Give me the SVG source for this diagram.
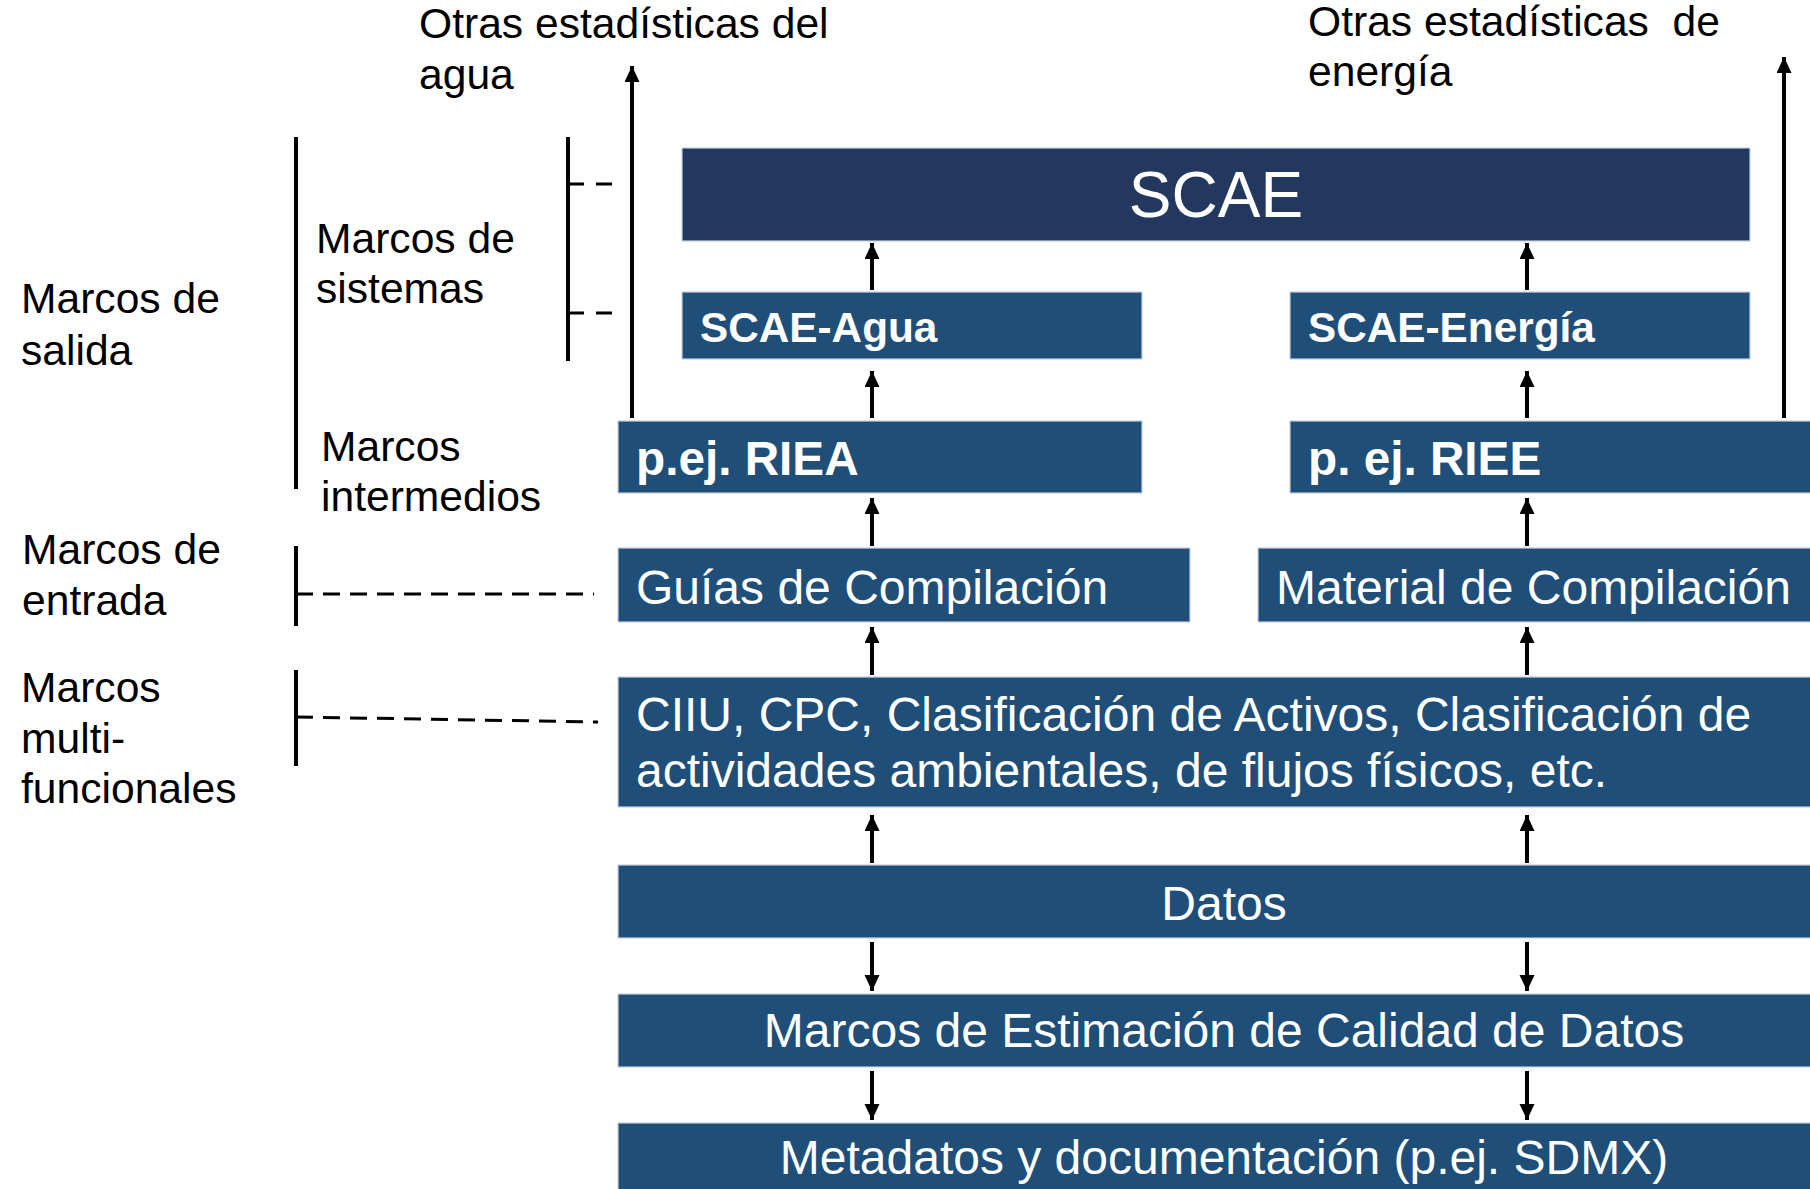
<svg xmlns="http://www.w3.org/2000/svg" width="1810" height="1189" viewBox="0 0 1810 1189">
<defs>
<marker id="ah" markerUnits="userSpaceOnUse" markerWidth="18" markerHeight="16" refX="16" refY="7.5" orient="auto">
<path d="M0,0 L16,7.5 L0,15 z" fill="#000"/>
</marker>
<style>
.box{fill:#1F4E79;stroke:#C5D1DF;stroke-width:1.2}
.dark{fill:#22385F}
.lbl{font-family:"Liberation Sans",Arial,sans-serif;font-size:42.6px;fill:#000}
.wt{font-family:"Liberation Sans",Arial,sans-serif;font-size:48px;fill:#fff}
.wb{font-family:"Liberation Sans",Arial,sans-serif;font-weight:bold;fill:#fff}
.arr{stroke:#000;stroke-width:4;fill:none;marker-end:url(#ah)}
.brk{stroke:#000;stroke-width:4;fill:none}
.dash{stroke:#000;stroke-width:3;fill:none;stroke-dasharray:17 10}
</style>
</defs>
<rect width="1810" height="1189" fill="#fff"/>

<g id="labels">
<text class="lbl" x="419" y="38">Otras estadísticas del</text>
<text class="lbl" x="419" y="89">agua</text>
<text class="lbl" x="1308" y="36" xml:space="preserve">Otras estadísticas  de</text>
<text class="lbl" x="1308" y="86">energía</text>
<text class="lbl" x="21" y="313">Marcos de</text>
<text class="lbl" x="21" y="365">salida</text>
<text class="lbl" x="316" y="253">Marcos de</text>
<text class="lbl" x="316" y="303">sistemas</text>
<text class="lbl" x="321" y="461">Marcos</text>
<text class="lbl" x="321" y="511">intermedios</text>
<text class="lbl" x="22" y="564">Marcos de</text>
<text class="lbl" x="22" y="615">entrada</text>
<text class="lbl" x="21" y="702">Marcos</text>
<text class="lbl" x="21" y="753">multi-</text>
<text class="lbl" x="21" y="803">funcionales</text>
</g>

<g id="brackets">
<line class="brk" x1="296" y1="137" x2="296" y2="489"/>
<line class="brk" x1="568" y1="137" x2="568" y2="361"/>
<line class="dash" x1="568" y1="184" x2="612" y2="184" style="stroke-dasharray:16 12"/>
<line class="dash" x1="568" y1="313" x2="612" y2="313" style="stroke-dasharray:16 12"/>
<line class="brk" x1="296" y1="546" x2="296" y2="626"/>
<line class="dash" x1="296" y1="594" x2="594" y2="594"/>
<line class="brk" x1="296" y1="670" x2="296" y2="766"/>
<line class="dash" x1="296" y1="717" x2="598" y2="722"/>
</g>

<g id="n-scae"><rect class="box dark" x="682" y="148" width="1068" height="93"/>
<text class="wb" x="1216" y="217" text-anchor="middle" style="font-weight:normal;font-size:64px">SCAE</text></g>
<g id="n-scae-agua"><rect class="box" x="682" y="292" width="460" height="67"/>
<text class="wb" x="700" y="342" style="font-size:42.3px">SCAE-Agua</text></g>
<g id="n-scae-energia"><rect class="box" x="1290" y="292" width="460" height="67"/>
<text class="wb" x="1308" y="342" style="font-size:42.3px">SCAE-Energía</text></g>
<g id="n-riea"><rect class="box" x="618" y="421" width="524" height="72"/>
<text class="wb" x="636" y="475" style="font-size:47.7px">p.ej. RIEA</text></g>
<g id="n-riee"><rect class="box" x="1290" y="421" width="530" height="72"/>
<text class="wb" x="1308" y="475" style="font-size:47.7px">p. ej. RIEE</text></g>
<g id="n-guias"><rect class="box" x="618" y="548" width="572" height="74"/>
<text class="wt" x="636" y="604">Guías de Compilación</text></g>
<g id="n-material"><rect class="box" x="1258" y="548" width="562" height="74"/>
<text class="wt" x="1276" y="604">Material de Compilación</text></g>
<g id="n-ciiu"><rect class="box" x="618" y="677" width="1202" height="130"/>
<text class="wt" x="636" y="731">CIIU, CPC, Clasificación de Activos, Clasificación de</text>
<text class="wt" x="636" y="787">actividades ambientales, de flujos físicos, etc.</text></g>
<g id="n-datos"><rect class="box" x="618" y="865" width="1202" height="73"/>
<text class="wt" x="1224" y="920" text-anchor="middle">Datos</text></g>
<g id="n-calidad"><rect class="box" x="618" y="994" width="1202" height="73"/>
<text class="wt" x="1224" y="1047" text-anchor="middle">Marcos de Estimación de Calidad de Datos</text></g>
<g id="n-metadatos"><rect class="box" x="618" y="1123" width="1202" height="80"/>
<text class="wt" x="1224" y="1174" text-anchor="middle">Metadatos y documentación (p.ej. SDMX)</text></g>

<g id="connectors">
<line class="arr" x1="872" y1="290" x2="872" y2="243"/>
<line class="arr" x1="872" y1="418" x2="872" y2="371"/>
<line class="arr" x1="872" y1="546" x2="872" y2="498"/>
<line class="arr" x1="872" y1="675" x2="872" y2="627"/>
<line class="arr" x1="872" y1="863" x2="872" y2="815"/>
<line class="arr" x1="872" y1="942" x2="872" y2="991"/>
<line class="arr" x1="872" y1="1071" x2="872" y2="1120"/>
<line class="arr" x1="1527" y1="290" x2="1527" y2="243"/>
<line class="arr" x1="1527" y1="418" x2="1527" y2="371"/>
<line class="arr" x1="1527" y1="546" x2="1527" y2="498"/>
<line class="arr" x1="1527" y1="675" x2="1527" y2="627"/>
<line class="arr" x1="1527" y1="863" x2="1527" y2="815"/>
<line class="arr" x1="1527" y1="942" x2="1527" y2="991"/>
<line class="arr" x1="1527" y1="1071" x2="1527" y2="1120"/>
<line class="arr" x1="632" y1="418" x2="632" y2="66"/>
<line class="arr" x1="1784" y1="418" x2="1784" y2="57"/>
</g>
</svg>
